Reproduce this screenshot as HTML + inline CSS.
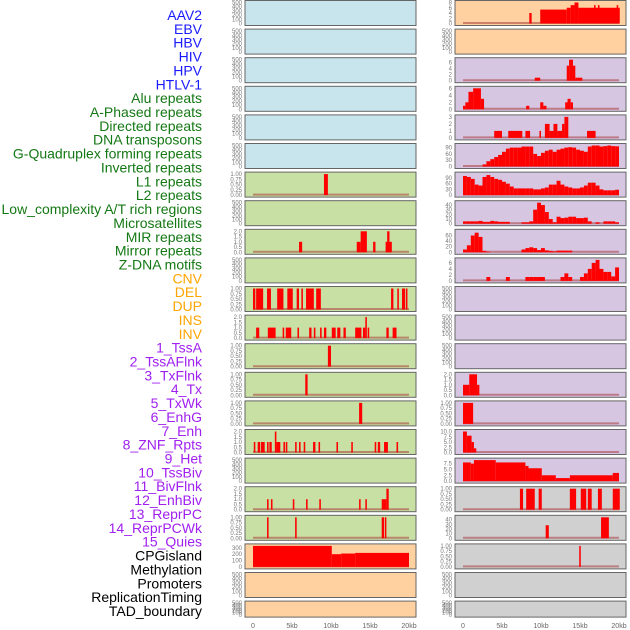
<!DOCTYPE html>
<html><head><meta charset="utf-8">
<style>
body{margin:0;background:#fff;width:630px;height:630px;overflow:hidden}
svg{display:block}
.lab{font-family:"Liberation Sans",sans-serif;font-size:14px}
.tk{font-family:"Liberation Sans",sans-serif;font-size:6px;fill:#777}
.xt{font-family:"Liberation Sans",sans-serif;font-size:7px;fill:#666}
</style></head>
<body>
<svg id="chart" width="630" height="630"></svg>
<script>
const labels=["AAV2","EBV","HBV","HIV","HPV","HTLV-1","Alu repeats","A-Phased repeats","Directed repeats","DNA transposons","G-Quadruplex forming repeats","Inverted repeats","L1 repeats","L2 repeats","Low_complexity A/T rich regions","Microsatellites","MIR repeats","Mirror repeats","Z-DNA motifs","CNV","DEL","DUP","INS","INV","1_TssA","2_TssAFlnk","3_TxFlnk","4_Tx","5_TxWk","6_EnhG","7_Enh","8_ZNF_Rpts","9_Het","10_TssBiv","11_BivFlnk","12_EnhBiv","13_ReprPC","14_ReprPCWk","15_Quies","CPGisland","Methylation","Promoters","ReplicationTiming","TAD_boundary"];
const labelColors=["#1a1aff","#1a1aff","#1a1aff","#1a1aff","#1a1aff","#1a1aff","#147814","#147814","#147814","#147814","#147814","#147814","#147814","#147814","#147814","#147814","#147814","#147814","#147814","#ffa500","#ffa500","#ffa500","#ffa500","#ffa500","#a020f0","#a020f0","#a020f0","#a020f0","#a020f0","#a020f0","#a020f0","#a020f0","#a020f0","#a020f0","#a020f0","#a020f0","#a020f0","#a020f0","#a020f0","#000","#000","#000","#000","#000"];
const xTicks=[0,5,10,15,20];
const xTickLabels=["0","5kb","10kb","15kb","20kb"];
// left column track segments [startKb,endKb,value]
const leftBg=["b","b","b","b","b","b","g","g","g","g","g","g","g","g","g","g","g","g","g","o","o","o"];
const leftMax=[0,0,0,0,0,0,1,0,2,0,1,2,1,1,1,2,0,2,1,330,0,0];
const left6=[[9.1,9.6,1]];
const left8=[[5.9,6.3,1],[13.3,13.8,1],[13.8,14.6,2],[15.4,15.7,1],[17,17.8,1],[17.2,17.5,2]];
const left10=[[0,0.3,1],[0.4,1.3,1],[1.8,2.3,1],[3.1,3.9,1],[4.4,5.1,1],[5.6,5.9,1],[6.2,6.4,1],[6.8,7.8,1],[8.1,8.7,1],[17.7,18,1],[18.5,18.7,1],[19.1,19.5,1],[19.6,19.8,1]];
const left11=[[0.4,0.8,1],[1.9,2.9,1],[3.8,4,1],[4.2,4.9,1],[5.7,5.9,1],[7.2,7.5,1],[7.8,8,1],[8.6,8.8,1],[9.1,9.4,1],[10.1,10.6,1],[10.8,11.2,1],[11.6,11.9,1],[13.1,13.9,1],[14.1,14.4,1],[14.4,14.6,2],[14.7,14.9,1],[17.1,17.4,1],[17.9,18.4,1]];
const left12=[[9.6,10,1]];
const left13=[[6.7,7,1]];
const left14=[[13.6,14,1]];
const left15=[[0.1,0.3,1],[0.6,0.9,1],[1,1.5,1],[1.8,2,1],[2.1,2.4,1],[3,3.5,1],[3.9,4.1,1],[4.2,4.4,1],[5.4,5.6,1],[5.9,6.1,1],[6.5,6.7,1],[7.7,8,1],[8.4,8.6,1],[10.7,10.9,1],[12.6,12.8,1],[15.6,15.8,1],[16,16.3,1],[16.8,17.3,1],[18.4,18.6,1],[2.8,3,2]];
const left17=[[1.8,2,1],[2.3,2.5,1],[5.1,5.3,1],[6.8,7,1],[8.5,8.7,1],[13.6,13.8,1],[14.4,14.6,1],[16.5,17.1,1],[17.1,17.4,2]];
const left18=[[1.8,2,1],[5.4,5.6,1],[16.5,16.8,1],[16.9,17.1,1]];
const left19=[[0,10.1,330],[10.1,11.3,200],[11.3,13.1,210],[13.1,20,220]];
const leftData={6:left6,8:left8,10:left10,11:left11,12:left12,13:left13,14:left14,15:left15,17:left17,18:left18,19:left19};
// right column
const rightBg=["o","o","p","p","p","p","p","p","p","p","p","p","p","p","p","p","p","y","y","y","y","y"];
const rightMax=[8,0,7,6,3,100,110,45,75,7,0,0,0,2,1,10,9,1,45,1,0,0];
const right0=[[8.5,8.8,4],[9.9,13.3,5.3],[13.3,13.8,6],[13.8,14.3,7],[14.3,14.8,8],[14.8,20.1,6],[16.8,17,7],[17.3,17.5,7],[19.7,19.9,7]];
const right2=[[9.2,9.9,1],[13.3,13.6,5],[13.6,14.1,7],[14.1,14.4,5],[14.4,15.3,1]];
const right3=[[0,0.3,1],[0.3,0.7,2],[0.7,1.3,5],[1.3,2.3,6],[2.3,2.7,3],[8.1,8.5,1],[9.9,10.3,2],[10.3,10.7,1],[13.1,13.4,2],[13.4,13.8,3],[13.8,14.1,2]];
const right4=[[4,5,1],[5.8,7.6,1],[8,8.6,1],[9.8,10,1],[10.5,11.1,2],[11.1,11.6,1],[11.6,12.1,2],[12.1,12.7,1],[12.7,13,2],[13,13.5,3],[15.9,17,1]];
const right5bins=[0,0,0,0,0,10,25,35,45,55,70,85,90,90,90,95,95,95,60,50,65,75,80,70,80,85,90,92,90,80,75,70,95,100,100,95,97,100,97,96];
const right6bins=[100,95,85,55,50,95,105,95,85,80,70,60,45,35,35,35,35,35,30,30,35,40,55,55,75,55,45,40,35,35,40,50,65,65,50,30,25,25,25,28];
const right7bins=[5,5,5,5,6,4,4,6,5,4,4,4,0,0,0,3,3,5,30,45,40,25,10,3,15,12,13,15,15,12,12,13,5,0,3,0,5,5,5,3];
const right8bins=[10,25,60,70,55,5,2,0,0,0,0,0,0,0,0,10,15,18,15,8,15,7,5,3,6,6,6,6,0,0,0,0,0,0,0,0,0,0,0,0];
const right9bins=[0,0,0,0,0,0,1.3,0,0,0,0,1.3,0,0,0,0,1.3,1.3,1.3,1.3,1.3,0,0,0,0,1.3,2.5,1.3,0,0,1.3,2.5,4,6,7,4,3,3,1.5,4.5];
const right13=[[0,0.8,1],[0.8,1.8,2],[1.8,2.1,1]];
const right14=[[0,1.3,1]];
const right15=[[0,0.5,10],[0.5,1.1,8],[1.1,1.4,5],[1.4,1.7,2]];
const right16=[[0,1,8],[1,1.4,7.5],[1.4,4.2,9],[4.2,8,8],[8,8.4,6.5],[8.4,10.1,5.5],[10.1,11.9,2.5],[11.9,13.7,1.3],[13.7,19.2,2.5],[19.2,20,3.5]];
const right17=[[7.3,7.7,1],[8.1,9.2,1],[9.7,10.1,1],[13.7,14.5,1],[15.1,15.8,1],[16,16.5,1],[17.3,17.8,1],[19.2,20.1,1]];
const right18=[[10.6,11,28],[17.7,18.7,45]];
const right19=[[14.9,15.1,1]];
function bins(a){return a.map((v,i)=>[i*0.5,i*0.5+0.5,v]);}
const rightData={0:right0,2:right2,3:right3,4:right4,5:bins(right5bins),6:bins(right6bins),7:bins(right7bins),8:bins(right8bins),9:bins(right9bins),13:right13,14:right14,15:right15,16:right16,17:right17,18:right18,19:right19};
const tickSets={0:[0,100,200,300,400,500],8:[0,2,4,6,8],7:[0,2,4,6],6:[0,2,4,6],3:[0,1,2,3],100:[0,30,60,90],110:[0,30,60,90],45:[0,10,20,30,40],75:[0,20,40,60],2:[0,0.5,1,1.5,2],1:[0,0.25,0.5,0.75,1],10:[0,2.5,5,7.5,10],9:[0,2.5,5,7.5],330:[0,100,200,300]};
const fmt={2:v=>v.toFixed(1),1:v=>v.toFixed(2),10:v=>v.toFixed(1),9:v=>v.toFixed(1)};
const bgCol={b:"#c8e4ec",g:"#c8e0a4",o:"#ffd0a0",p:"#d6c6e2",y:"#d0d0d0"};
const NS="http://www.w3.org/2000/svg";
const svg=document.getElementById('chart');
function mk(tag,attrs,parent){const e=document.createElementNS(NS,tag);for(const k in attrs)e.setAttribute(k,attrs[k]);(parent||svg).appendChild(e);return e;}
labels.forEach((t,i)=>{const e=mk('text',{x:202,y:20+i*13.86,'text-anchor':'end',class:'lab',fill:labelColors[i]});e.textContent=t;

});
const cols=[{L:245,x0:253,bg:leftBg,mx:leftMax,data:leftData,name:'left'},{L:455,x0:463,bg:rightBg,mx:rightMax,data:rightData,name:'right'}];
const K=7.8;
cols.forEach(c=>{
 const xs=kb=>c.x0+kb*K;
 for(let r=0;r<22;r++){
  const t=0.5+r*28.6,h=(r==21)?16:25;
  const g=mk('g',{});
  
  
  mk('rect',{x:c.L,y:t,width:171,height:h,fill:bgCol[c.bg[r]],stroke:'#666','stroke-width':1},g);
  const m=c.mx[r];const ymax=m||500;
  const bot=t+h-2,top=t+2;
  const ys=v=>bot-(v/ymax)*(bot-top);
  const ticks=tickSets[m];
  ticks.forEach(v=>{const e=mk('text',{x:c.L-3,y:ys(v)+2,'text-anchor':'end',class:'tk'},g);e.textContent=fmt[m]?fmt[m](v):String(v);});
  if(m){
   mk('line',{x1:xs(0),x2:xs(20),y1:bot-0.5,y2:bot-0.5,stroke:'rgba(170,60,60,0.55)','stroke-width':2},g);
   (c.data[r]||[]).forEach(s=>{if(s[2]<=0)return;const b=mk('rect',{x:xs(s[0]),y:ys(s[2]),width:Math.max(1.5,(s[1]-s[0])*K),height:bot-ys(s[2]),fill:'#ff0000'},g);
    
    });
  }
 }
 xTicks.forEach((v,i)=>{const e=mk('text',{x:xs(v),y:628,'text-anchor':'middle',class:'xt'});e.textContent=xTickLabels[i];
 
 });
});
</script>
</body></html>
